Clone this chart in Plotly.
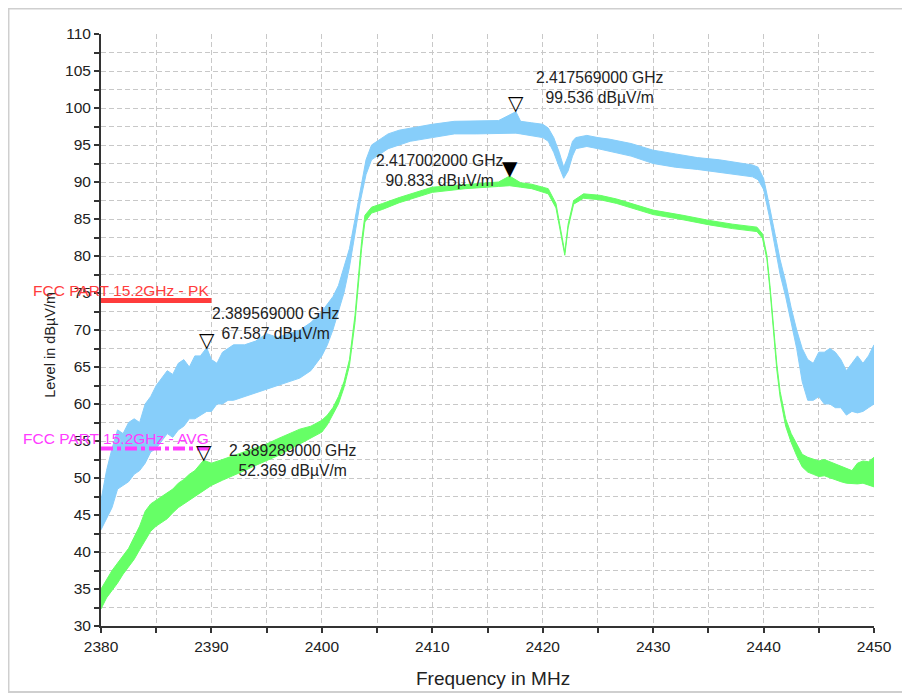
import plotly.graph_objects as go

# ---------------- data ----------------
freq_pk = [2380.0, 2380.5, 2381.0, 2381.5, 2382.0, 2382.5, 2383.0, 2383.5, 2384.0, 2384.5,
           2385.0, 2385.5, 2386.0, 2386.5, 2387.0, 2387.5, 2388.0, 2388.5, 2389.0, 2389.57,
           2390.0, 2390.5, 2391.0, 2391.5, 2392.0, 2393.0, 2394.0, 2395.0, 2396.0, 2397.0,
           2398.0, 2399.0, 2400.0, 2400.5, 2401.0, 2401.5, 2402.0, 2402.5, 2403.0, 2403.5,
           2404.0, 2404.5, 2405.0, 2406.0, 2407.0, 2408.0, 2410.0, 2412.0, 2414.0, 2416.0,
           2417.57, 2418.0, 2419.0, 2420.0, 2420.5, 2421.0, 2421.5, 2421.9, 2422.3, 2422.7,
           2423.0, 2424.0, 2425.0, 2426.0, 2428.0, 2430.0, 2432.0, 2434.0, 2436.0, 2438.0,
           2439.0, 2439.5, 2440.0, 2440.5, 2441.0, 2441.5, 2442.0, 2442.5, 2443.0, 2443.5,
           2444.0, 2444.5, 2445.0, 2445.5, 2446.0, 2446.5, 2447.0, 2447.5, 2448.0, 2448.5,
           2449.0, 2449.5, 2450.0]
pk_hi = [47.0, 51.0, 54.0, 56.5, 56.0, 57.5, 58.0, 57.5, 60.0, 61.0,
         62.5, 63.5, 64.5, 64.0, 65.5, 66.0, 65.0, 66.5, 66.5, 67.6,
         66.0, 65.5, 67.0, 67.5, 68.0, 68.0, 68.5, 69.5, 69.0, 69.5,
         70.0, 71.0, 72.5, 73.5, 74.5, 76.0, 78.5, 81.0, 85.0, 89.0,
         93.0, 95.0, 95.5, 96.5, 97.0, 97.3, 97.8, 98.2, 98.3, 98.3,
         99.5, 98.2, 98.0, 97.8, 97.3, 96.0, 94.0, 92.0, 93.5, 95.5,
         96.0, 96.3, 96.0, 95.8, 95.2, 94.3, 93.8, 93.3, 93.0, 92.5,
         92.3, 92.0, 90.5, 87.0, 83.0, 79.5, 76.5, 73.0, 70.0, 67.5,
         66.0, 65.5, 67.0, 67.0, 67.5, 67.0, 66.0, 64.5, 65.5, 66.5,
         65.5, 66.5, 68.0]
pk_lo = [43.0, 44.5, 46.0, 48.5, 49.0, 49.5, 50.5, 51.0, 52.0, 53.5,
         54.0, 55.0, 56.0, 55.5, 56.5, 57.0, 58.0, 58.0, 58.5, 59.0,
         59.0, 60.0, 60.0, 60.5, 60.5, 61.0, 61.5, 62.0, 62.5, 63.0,
         63.5, 64.5, 66.5, 68.0, 70.0, 72.5, 75.0, 78.5, 83.0, 87.5,
         91.0, 93.0, 93.5, 94.5, 95.0, 95.5, 96.0, 96.5, 96.5, 96.6,
         96.6, 96.5, 96.2, 96.0, 95.5, 94.0, 92.0, 90.5, 91.5, 93.5,
         94.5, 94.8, 94.5, 94.2, 93.5, 92.5, 92.0, 91.7, 91.3, 91.0,
         90.7, 90.3, 89.0, 85.5, 81.5, 77.5, 74.5, 71.0, 67.5, 63.0,
         60.5, 60.5, 61.0, 60.0, 60.0, 59.5, 59.5, 58.5, 59.0, 58.8,
         59.0, 59.5, 60.0]

freq_av = [2380.0, 2380.5, 2381.0, 2381.5, 2382.0, 2382.5, 2383.0, 2383.5, 2384.0, 2384.5,
           2385.0, 2385.5, 2386.0, 2386.5, 2387.0, 2387.5, 2388.0, 2388.5, 2389.29, 2390.0,
           2391.0, 2392.0, 2393.0, 2394.0, 2395.0, 2396.0, 2397.0, 2398.0, 2399.0, 2400.0,
           2400.5, 2401.0, 2401.5, 2402.0, 2402.5, 2403.0, 2403.3, 2403.6, 2403.9, 2404.5,
           2405.5, 2407.0, 2410.0, 2413.0, 2416.0, 2417.0, 2418.0, 2419.0, 2420.5, 2421.2,
           2421.7, 2422.0, 2422.3, 2422.8, 2423.7, 2425.2, 2426.7, 2428.2, 2430.0, 2432.7,
           2435.1, 2437.2, 2439.4, 2439.9, 2440.3, 2440.6, 2440.9, 2441.2, 2441.5, 2442.0,
           2442.5, 2443.0, 2443.5, 2444.0, 2444.5, 2445.0, 2445.5, 2446.0, 2446.5, 2447.0,
           2447.5, 2448.0, 2448.5, 2449.0, 2449.5, 2450.0]
av_hi = [35.0, 36.3, 37.5, 38.5, 39.5, 40.5, 42.0, 43.5, 45.5, 46.5,
         47.0, 47.5, 48.0, 48.5, 49.3, 49.8, 50.5, 51.0, 52.4, 52.0,
         52.5, 53.0, 53.5, 54.0, 54.6, 55.3, 56.0, 56.6, 57.0, 57.8,
         58.5, 59.5, 61.0, 63.0, 66.0, 72.0, 77.0, 82.0, 85.5, 86.6,
         87.1, 87.9, 89.3, 89.7, 90.0, 90.8, 89.9, 89.7, 89.1, 87.1,
         83.1, 80.5, 84.3, 87.5, 88.4, 88.2, 87.7, 87.0, 86.2, 85.5,
         84.8, 84.3, 83.9, 83.0, 80.1, 75.7, 70.7, 65.4, 61.7, 58.0,
         56.0, 54.5, 53.2, 52.8, 52.5, 52.3, 52.5, 52.2, 51.8, 51.5,
         51.2, 51.0, 52.0, 52.3, 52.2, 52.8]
av_lo = [32.3, 33.8, 34.8, 35.8, 37.0, 38.0, 39.0, 40.3, 41.5, 42.8,
         43.5, 44.0, 44.5, 45.3, 46.0, 46.5, 47.0, 47.5, 48.3, 49.0,
         49.7, 50.3, 51.0, 51.7, 52.3, 53.0, 53.8, 54.6, 55.3, 56.2,
         57.2, 58.5, 60.0, 62.2, 65.2, 71.0, 76.0, 81.0, 84.6, 85.8,
         86.3, 87.2, 88.6, 89.1, 89.4, 89.5, 89.3, 89.1, 88.4, 86.5,
         82.5, 80.1, 83.8, 87.0, 87.8, 87.6, 87.1, 86.4, 85.6, 84.9,
         84.2, 83.7, 83.3, 82.4, 79.6, 75.1, 70.1, 64.6, 60.9, 57.0,
         54.8, 53.0, 51.5, 50.8, 50.5, 50.2, 50.3, 50.0, 49.8, 49.5,
         49.3, 49.2, 49.2, 49.3, 49.0, 48.8]

limit_names = ["FCC PART 15.2GHz - PK", "FCC PART 15.2GHz - AVG"]
limit_freq = [2380.0, 2390.0]
limit_levels = [74.0, 54.0]

mk_freq = [2417.569, 2417.002, 2389.569, 2389.289]
mk_level = [99.536, 90.833, 67.587, 52.369]
mk_filled = [False, True, False, False]

x_range = [2380, 2450]
y_range = [30, 110]

# ---------------- styles ----------------
BLUE = "#87cefa"
GREEN = "#66ff66"
RED = "#ff3c3c"
MAGENTA = "#ff3cff"
GRID = "#c8c8c8"
FONT = "Liberation Sans, Arial, sans-serif"

fig = go.Figure()

# peak trace as envelope band
fig.add_trace(go.Scatter(x=freq_pk, y=pk_hi, mode="lines", line=dict(color=BLUE, width=1),
                         showlegend=False, hoverinfo="skip"))
fig.add_trace(go.Scatter(x=freq_pk, y=pk_lo, mode="lines", line=dict(color=BLUE, width=1),
                         fill="tonexty", fillcolor=BLUE, showlegend=False, hoverinfo="skip"))
# average trace as envelope band
fig.add_trace(go.Scatter(x=freq_av, y=av_hi, mode="lines", line=dict(color=GREEN, width=1),
                         showlegend=False, hoverinfo="skip"))
fig.add_trace(go.Scatter(x=freq_av, y=av_lo, mode="lines", line=dict(color=GREEN, width=1),
                         fill="tonexty", fillcolor=GREEN, showlegend=False, hoverinfo="skip"))

# limit lines
fig.add_trace(go.Scatter(x=limit_freq, y=[limit_levels[0]] * 2, mode="lines",
                         line=dict(color=RED, width=5), showlegend=False, hoverinfo="skip",
                         cliponaxis=False))
fig.add_trace(go.Scatter(x=limit_freq, y=[limit_levels[1]] * 2, mode="lines",
                         line=dict(color=MAGENTA, width=4, dash="dashdot"), showlegend=False,
                         hoverinfo="skip", cliponaxis=False))

for name, lvl, col in zip(limit_names, limit_levels, [RED, MAGENTA]):
    fig.add_annotation(x=limit_freq[1], y=lvl, xref="x", yref="y", text=name,
                       showarrow=False, xanchor="right", yanchor="bottom",
                       font=dict(family=FONT, size=15.5, color=col), yshift=-1)

# markers and labels
label_shift = [(84, 24), (-70, 5), (69, 24), (89, 0)]
for f, l, filled, (dx, dy) in zip(mk_freq, mk_level, mk_filled, label_shift):
    fig.add_annotation(x=f, y=l, xref="x", yref="y", text="▼" if filled else "▽",
                       showarrow=False, xanchor="center", yanchor="bottom", yshift=-6,
                       font=dict(family="DejaVu Sans", size=20, color="#000000"))
    fig.add_annotation(x=f, y=l, xref="x", yref="y",
                       text=f"{f/1000:.9f} GHz<br>{l:.3f} dBµV/m",
                       showarrow=False, xanchor="center", yanchor="middle", align="center",
                       xshift=dx, yshift=dy,
                       font=dict(family=FONT, size=15.7, color="#222222"))

# axis titles as annotations
fig.add_annotation(xref="paper", yref="paper", x=-0.066, y=0.475, text="Level in dBµV/m",
                   textangle=-90, showarrow=False, xanchor="center", yanchor="middle",
                   font=dict(family=FONT, size=14.5, color="#222222"))
fig.add_annotation(xref="paper", yref="paper", x=0.507, y=-0.088, text="Frequency in MHz",
                   showarrow=False, xanchor="center", yanchor="middle",
                   font=dict(family=FONT, size=19, color="#222222"))

# outer frame
fig.add_shape(type="rect", xref="paper", yref="paper", x0=-0.1197, x1=1.07, y0=-0.1115, y1=1.043,
              line=dict(color="#cfcfcf", width=2), layer="below")

axis_common = dict(
    showline=True, linecolor="#333333", linewidth=2, mirror=False,
    ticks="outside", ticklen=5, tickwidth=1.5, tickcolor="#333333",
    showgrid=True, gridcolor=GRID, gridwidth=1, griddash="5px,3px",
    zeroline=False, tickfont=dict(family=FONT, size=15.5, color="#222222"),
)

fig.update_xaxes(range=x_range, dtick=10, tick0=2380,
                 minor=dict(dtick=5, ticks="outside", ticklen=5, tickcolor="#333333",
                            showgrid=True, gridcolor=GRID, griddash="5px,3px"),
                 **axis_common)
fig.update_yaxes(range=y_range, dtick=5, tick0=30,
                 minor=dict(dtick=2.5, ticks="outside", ticklen=5, tickcolor="#333333",
                            showgrid=True, gridcolor=GRID, griddash="5px,3px"),
                 **axis_common)

fig.update_layout(
    width=910, height=694,
    margin=dict(l=93, r=44, t=26, b=76),
    paper_bgcolor="white", plot_bgcolor="white",
    showlegend=False,
)

fig.write_html("out.html")
